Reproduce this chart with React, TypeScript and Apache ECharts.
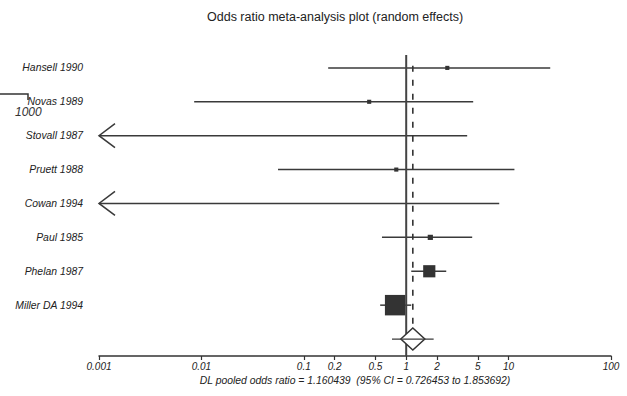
import React, { useEffect, useRef } from "react";
import * as echarts from "echarts";

// ---- data ----
const studies = [
  "Hansell 1990",
  "Novas 1989",
  "Stovall 1987",
  "Pruett 1988",
  "Cowan 1994",
  "Paul 1985",
  "Phelan 1987",
  "Miller DA 1994",
];
// null = point estimate not shown (off scale)
const oddsRatio: (number | null)[] = [2.52, 0.435, null, 0.8, null, 1.72, 1.68, 0.78];
// null = lower limit below the axis minimum (drawn as an arrow)
const lowerCI: (number | null)[] = [0.173, 0.0085, null, 0.056, null, 0.58, 1.12, 0.557];
const upperCI = [25.5, 4.51, 3.94, 11.4, 8.1, 4.41, 2.46, 1.12];
const weights = [2.5, 2.5, 1, 2.5, 1, 4, 22, 62];

const pooledOR = 1.160439;
const pooledLower = 0.726453;
const pooledUpper = 1.853692;

const tickValues = [0.001, 0.01, 0.1, 0.2, 0.5, 1, 2, 5, 10, 100];
const tickLabels = ["0.001", "0.01", "0.1", "0.2", "0.5", "1", "2", "5", "10", "100"];

const titleText = "Odds ratio meta-analysis plot (random effects)";
const footnote =
  "DL pooled odds ratio = 1.160439  (95% CI = 0.726453 to 1.853692)";

const FONT = "'Liberation Sans', Arial, Helvetica, sans-serif";
const INK = "#333";

export default function App() {
  const ref = useRef<HTMLDivElement>(null);

  useEffect(() => {
    if (!ref.current) return;
    const chart = echarts.init(ref.current, undefined, { renderer: "svg" });

    const option: any = {
      animation: false,
      backgroundColor: "#fff",
      title: {
        text: titleText,
        left: 207,
        top: 10,
        padding: 0,
        textStyle: {
          fontFamily: FONT,
          fontSize: 12.5,
          fontWeight: "normal",
          color: "#222",
        },
      },
      grid: { left: 99, right: 16, top: 34, bottom: 40 },
      xAxis: {
        type: "log",
        logBase: 10,
        min: 0.001,
        max: 100,
        position: "bottom",
        axisLine: { show: true, onZero: false, lineStyle: { color: INK, width: 1.5 } },
        axisTick: {
          show: true,
          customValues: tickValues,
          length: 4,
          lineStyle: { color: INK, width: 1.2 },
        },
        minorTick: { show: false },
        splitLine: { show: false },
        axisLabel: {
          customValues: tickValues,
          margin: 5,
          fontFamily: FONT,
          fontStyle: "italic",
          fontSize: 10,
          color: "#222",
          formatter: (v: number) => {
            const i = tickValues.findIndex(
              (t) => Math.abs(Math.log10(t) - Math.log10(v)) < 1e-6
            );
            return i >= 0 ? tickLabels[i] : "";
          },
        },
        name: footnote,
        nameLocation: "middle",
        nameGap: 19,
        nameTextStyle: {
          fontFamily: FONT,
          fontStyle: "italic",
          fontSize: 10.4,
          color: "#222",
        },
      },
      yAxis: {
        type: "value",
        inverse: true,
        min: 0,
        max: 9.5,
        interval: 1,
        axisLine: { show: false },
        axisTick: { show: false },
        splitLine: { show: false },
        axisLabel: {
          margin: 16,
          fontFamily: FONT,
          fontStyle: "italic",
          fontSize: 10.4,
          color: "#222",
          formatter: (v: number) => {
            const i = Math.round(v) - 1;
            return i >= 0 && i < studies.length ? studies[i] : "";
          },
        },
      },
      graphic: [
        {
          type: "polyline",
          shape: { points: [[0, 94], [28, 94], [28, 100]] },
          style: { stroke: INK, lineWidth: 1.5, fill: "none" },
        },
        {
          type: "text",
          x: 15,
          y: 106,
          style: {
            text: "1000",
            fontFamily: FONT,
            fontStyle: "italic",
            fontSize: 12,
            fill: "#333",
          },
        },
      ],
      series: [
        {
          type: "custom",
          name: "studies",
          clip: false,
          encode: { x: 0, y: 1 },
          data: studies.map((_, i) => [upperCI[i], i + 1]),
          renderItem: (params: any, api: any) => {
            const i = params.dataIndex;
            const row = i + 1;
            const lo = lowerCI[i];
            const hi = upperCI[i];
            const pt = oddsRatio[i];
            const y = api.coord([1, row])[1];
            const x1 = api.coord([lo == null ? tickValues[0] : lo, row])[0];
            const x2 = api.coord([hi, row])[0];
            const children: any[] = [
              {
                type: "line",
                shape: { x1, y1: y, x2, y2: y },
                style: { stroke: "#3a3a3a", lineWidth: 1.5 },
              },
            ];
            if (lo == null) {
              children.push({
                type: "polyline",
                shape: {
                  points: [
                    [x1 + 16, y - 12],
                    [x1, y],
                    [x1 + 16, y + 12],
                  ],
                },
                style: { stroke: "#3a3a3a", lineWidth: 1.5, fill: "none" },
              });
            }
            if (pt != null) {
              const px = api.coord([pt, row])[0];
              const s = Math.sqrt(weights[i]) * 2.6;
              children.push({
                type: "rect",
                shape: { x: px - s / 2, y: y - s / 2, width: s, height: s },
                style: { fill: "#333" },
              });
            }
            return { type: "group", children };
          },
        },
        {
          type: "custom",
          name: "pooled",
          clip: false,
          encode: { x: 0, y: 1 },
          data: [[pooledOR, 9]],
          renderItem: (params: any, api: any) => {
            const [cx, cy] = api.coord([pooledOR, 9]);
            const lx = api.coord([pooledLower, 9])[0];
            const ux = api.coord([pooledUpper, 9])[0];
            const oneX = api.coord([1, 0])[0];
            const topSolid = api.coord([1, 0.62])[1];
            const bottom = api.coord([1, 9.5])[1];
            const topDash = api.coord([1, 0.94])[1];
            const bottomDash = api.coord([1, 8.7])[1];
            return {
              type: "group",
              children: [
                {
                  type: "line",
                  shape: { x1: oneX, y1: topSolid, x2: oneX, y2: bottom },
                  style: { stroke: "#444", lineWidth: 2 },
                },
                {
                  type: "line",
                  shape: { x1: cx, y1: topDash, x2: cx, y2: bottomDash },
                  style: { stroke: "#333", lineWidth: 1.6, lineDash: [6, 8] },
                },
                {
                  type: "polygon",
                  shape: {
                    points: [
                      [cx - 12, cy],
                      [cx, cy - 11],
                      [cx + 12, cy],
                      [cx, cy + 11],
                    ],
                  },
                  style: { fill: "#fff", stroke: "#333", lineWidth: 1.5 },
                },
                {
                  type: "line",
                  shape: { x1: lx, y1: cy, x2: ux, y2: cy },
                  style: { stroke: "#3a3a3a", lineWidth: 1.3 },
                },
              ],
            };
          },
        },
      ],
    };

    chart.setOption(option);
    return () => chart.dispose();
  }, []);

  return (
    <div
      ref={ref}
      style={{ position: "fixed", left: 0, top: 0, width: 627, height: 396 }}
    />
  );
}
